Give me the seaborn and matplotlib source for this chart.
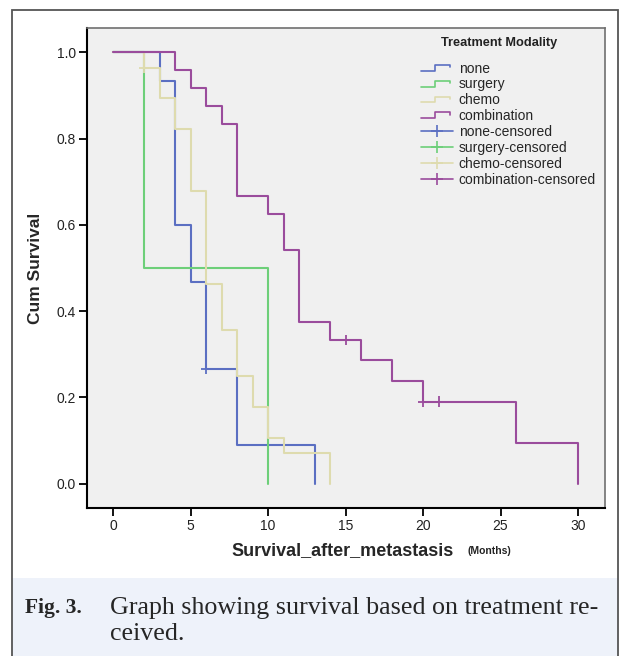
import pandas as pd
import matplotlib
matplotlib.use("Agg")
import matplotlib.pyplot as plt
import seaborn as sns
from matplotlib.lines import Line2D
from matplotlib.patches import Rectangle
from matplotlib.legend_handler import HandlerBase

# Kaplan-Meier step curves
groups = ["none", "surgery", "chemo", "combination"]
none_t = [0, 3, 4, 5, 6, 8, 13]
none_s = [1.0, 0.933, 0.600, 0.467, 0.267, 0.089, 0.0]
surgery_t = [0, 2, 10]
surgery_s = [1.0, 0.5, 0.0]
chemo_t = [0, 2, 3, 4, 5, 6, 7, 8, 9, 10, 11, 14]
chemo_s = [1.0, 0.964, 0.893, 0.821, 0.679, 0.464, 0.357, 0.250, 0.179, 0.107, 0.071, 0.0]
comb_t = [0, 4, 5, 6, 7, 8, 10, 11, 12, 14, 16, 18, 20, 26, 30]
comb_s = [1.0, 0.958, 0.917, 0.875, 0.833, 0.667, 0.625, 0.542, 0.375, 0.333,
          0.286, 0.238, 0.190, 0.095, 0.0]

# censored observations
cens_group = ["none", "chemo", "combination", "combination", "combination"]
cens_t = [6, 2, 15, 20, 21]
cens_s = [0.267, 0.964, 0.333, 0.190, 0.190]

xticks = [0, 5, 10, 15, 20, 25, 30]
yticks = [0.0, 0.2, 0.4, 0.6, 0.8, 1.0]

colors = {"none": "#5b6fc2", "surgery": "#6dcf79",
          "chemo": "#dedbae", "combination": "#9a4c9c"}

times = [none_t, surgery_t, chemo_t, comb_t]
survs = [none_s, surgery_s, chemo_s, comb_s]
df = pd.concat([pd.DataFrame({"time": t, "surv": s, "group": g})
                for g, t, s in zip(groups, times, survs)], ignore_index=True)
cens = pd.DataFrame({"time": cens_t, "surv": cens_s, "group": cens_group})

sns.set_style("white")
plt.rcParams["font.family"] = ["Liberation Sans", "DejaVu Sans"]

fig = plt.figure(figsize=(6.24, 6.56), dpi=100)
W, H = 624, 656

# outer frame and caption background
fig.patches.append(Rectangle((12 / W, 0), 606 / W, 78 / H, transform=fig.transFigure,
                             facecolor="#eef2fa", edgecolor="none", zorder=0))
fig.patches.append(Rectangle((12 / W, -0.01), 606 / W, (646 + 6.6) / H,
                             transform=fig.transFigure, facecolor="none",
                             edgecolor="#555555", linewidth=1.3, zorder=1))

ax = fig.add_axes([87 / W, 1 - 508 / H, 518 / W, 480 / H])
ax.set_facecolor("#f0f0f0")

sns.lineplot(data=df, x="time", y="surv", hue="group", hue_order=groups,
             palette=colors, estimator=None, sort=False, drawstyle="steps-post",
             linewidth=1.5, legend=False, ax=ax)
sns.scatterplot(data=cens, x="time", y="surv", hue="group", hue_order=groups,
                palette=colors, marker="+", s=60, linewidth=1.3, legend=False,
                ax=ax, zorder=5)

ax.set_xlim(-1.68, 31.74)
ax.set_ylim(-0.056, 1.056)
ax.set_xticks(xticks)
ax.set_yticks(yticks)
ax.set_yticklabels([f"{v:.1f}" for v in yticks])
ax.tick_params(axis="both", direction="out", length=6, width=1.3,
               labelsize=10, colors="black", left=True, bottom=True, pad=2)
ax.tick_params(axis="both", labelcolor="#222222")
for side in ["left", "bottom"]:
    ax.spines[side].set_color("black")
    ax.spines[side].set_linewidth(1.5)
for side in ["top", "right"]:
    ax.spines[side].set_color("#707070")
    ax.spines[side].set_linewidth(1.2)

ax.set_xlabel("")
ax.set_ylabel("")
fig.text(36 / W, 1 - 268 / H, "Cum Survival", rotation=90, ha="center",
         va="center", fontsize=12.5, fontweight="bold")
fig.text(231 / W, 1 - 551 / H, "Survival_after_metastasis", ha="left",
         va="center", fontsize=13, fontweight="bold")
fig.text(467 / W, 1 - 551 / H, "(Months)", ha="left", va="center",
         fontsize=7.5, fontweight="bold", color="#222222")


class StepHandler(HandlerBase):
    def create_artists(self, legend, orig_handle, xd, yd, width, height,
                       fontsize, trans):
        xs = [xd, xd + width * 0.45, xd + width * 0.45, xd + width * 0.9,
              xd + width * 0.9]
        ys = [yd + height * 0.2, yd + height * 0.2, yd + height * 0.8,
              yd + height * 0.8, yd + height * 0.55]
        ln = Line2D(xs, ys, color=orig_handle.get_color(), linewidth=1.2,
                    transform=trans)
        return [ln]


handles, labels = [], []
for g in groups:
    handles.append(Line2D([], [], color=colors[g]))
    labels.append(g)
for g in groups:
    handles.append(Line2D([], [], color=colors[g], marker="+", markersize=9,
                          markeredgewidth=1.2, linewidth=1.2))
    labels.append(g + "-censored")
hmap = {h: StepHandler() for h in handles[:4]}
leg = ax.legend(handles, labels, handler_map=hmap,
                loc="upper left", bbox_to_anchor=(0.645, 0.93), frameon=False,
                fontsize=10, handlelength=2.3, handletextpad=0.4,
                labelspacing=0.135, borderaxespad=0, borderpad=0)
fig.text(441 / W, 1 - 43 / H, "Treatment Modality", ha="left", va="center",
         fontsize=9.2, fontweight="bold", color="#222222")

# caption
fig.text(25 / W, 1 - 608 / H, "Fig. 3.", ha="left", va="center",
         fontsize=15.5, fontweight="bold", family=["Liberation Serif"])
fig.text(110 / W, 1 - 608 / H, "Graph showing survival based on treatment re-",
         ha="left", va="center", fontsize=18.7, family=["Liberation Serif"])
fig.text(110 / W, 1 - 634 / H, "ceived.", ha="left", va="center",
         fontsize=18.7, family=["Liberation Serif"])

fig.savefig("out.png", dpi=100)
